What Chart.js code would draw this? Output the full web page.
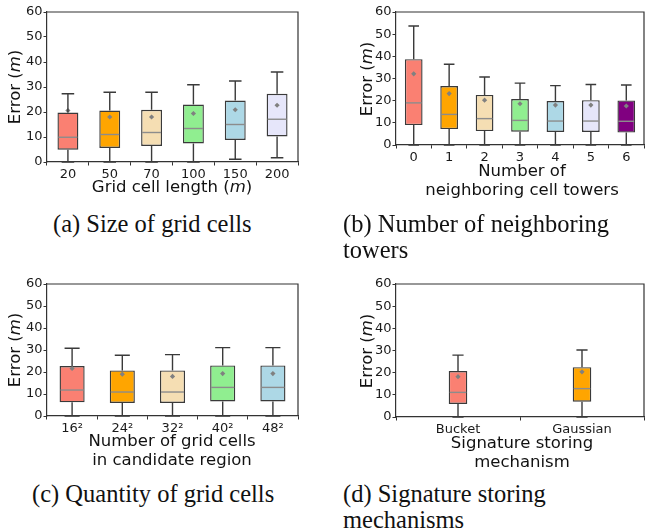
<!DOCTYPE html>
<html>
<head>
<meta charset="utf-8">
<script src="https://cdn.jsdelivr.net/npm/chart.js@4"></script>
<style>
  html, body { margin: 0; padding: 0; background: #fff; overflow: hidden; }
  #fig { position: relative; width: 647px; height: 532px; }
  canvas { position: absolute; }
  .lbl { position: absolute; font-family: "DejaVu Sans", sans-serif; font-size: 16.5px; color: #111;
         white-space: nowrap; transform: translate(-50%, -50%); text-align: center; line-height: 18.5px; }
  .ylbl { transform: translate(-50%, -50%) rotate(-90deg); }
  .cap { position: absolute; font-family: "Liberation Serif", "Times New Roman", serif; font-size: 24.5px;
         color: #111; white-space: nowrap; line-height: 26px; }
</style>
</head>
<body>
<div id="fig">
  <canvas id="chartA" width="320" height="200" style="left:0px;top:0px;width:320px;height:200px"></canvas>
  <canvas id="chartB" width="328" height="200" style="left:320px;top:0px;width:328px;height:200px"></canvas>
  <canvas id="chartC" width="320" height="200" style="left:0px;top:270px;width:320px;height:200px"></canvas>
  <canvas id="chartD" width="328" height="200" style="left:320px;top:270px;width:328px;height:200px"></canvas>

  <div class="lbl ylbl" style="left:15px;top:87px">Error (<i>m</i>)</div>
  <div class="lbl ylbl" style="left:367px;top:79px">Error (<i>m</i>)</div>
  <div class="lbl ylbl" style="left:15px;top:350px">Error (<i>m</i>)</div>
  <div class="lbl ylbl" style="left:367px;top:351px">Error (<i>m</i>)</div>

  <div class="lbl" style="left:172px;top:187px">Grid cell length (<i>m</i>)</div>
  <div class="lbl" style="left:522px;top:180px">Number of<br>neighboring cell towers</div>
  <div class="lbl" style="left:172px;top:450px">Number of grid cells<br>in candidate region</div>
  <div class="lbl" style="left:522px;top:452px">Signature storing<br>mechanism</div>

  <div class="cap" style="left:53px;top:211px">(a) Size of grid cells</div>
  <div class="cap" style="left:343px;top:211px">(b) Number of neighboring<br>towers</div>
  <div class="cap" style="left:32px;top:481px">(c) Quantity of grid cells</div>
  <div class="cap" style="left:343px;top:481px">(d) Signature storing<br>mechanisms</div>
</div>
<script>
// (a) size of grid cells
const aLabels = ['20', '50', '70', '100', '150', '200'];
const aQ1 = [4.9, 5.6, 6.4, 7.4, 8.8, 10.2];
const aMed = [9.9, 11.0, 11.8, 13.4, 15.0, 17.1];
const aQ3 = [19.8, 20.6, 20.9, 23.0, 24.6, 27.3];
const aLo = [0, 0, 0, 0, 1.1, 1.7];
const aHi = [27.3, 27.9, 27.9, 30.9, 32.4, 36.0];
const aMean = [20.6, 18.0, 18.0, 19.4, 20.9, 22.7];

// (b) number of neighboring towers
const bLabels = ['0', '1', '2', '3', '4', '5', '6'];
const bQ1 = [9.0, 7.2, 6.3, 6.0, 5.9, 5.9, 5.6];
const bMed = [19.0, 13.8, 11.9, 11.1, 10.8, 10.8, 10.7];
const bQ3 = [38.7, 26.6, 22.6, 20.7, 19.8, 20.2, 20.1];
const bLo = [0, 0, 0, 0, 0, 0, 0];
const bHi = [53.7, 36.4, 30.7, 27.9, 26.8, 27.3, 27.1];
const bMean = [32.1, 23.2, 20.2, 18.6, 18.0, 18.0, 17.6];

// (c) quantity of grid cells
const cLabels = ['16²', '24²', '32²', '40²', '48²'];
const cQ1 = [6.2, 5.9, 5.9, 6.6, 6.6];
const cMed = [11.8, 10.9, 10.9, 13.0, 13.0];
const cQ3 = [22.7, 20.7, 20.7, 23.0, 23.0];
const cLo = [0, 0, 0, 0, 0];
const cHi = [30.8, 27.6, 27.9, 31.1, 31.1];
const cMean = [21.6, 19.0, 18.0, 19.3, 19.3];

// (d) signature storing mechanisms
const dLabels = ['Bucket', 'Gaussian'];
const dQ1 = [5.9, 6.9];
const dMed = [11.1, 12.8];
const dQ3 = [20.7, 22.5];
const dLo = [0, 0];
const dHi = [27.9, 30.2];
const dMean = [18.2, 20.4];

const yTicks = [0, 10, 20, 30, 40, 50, 60];
const boxColors = ['#fa8072', '#ffa500', '#f5deb3', '#90ee90', '#add8e6', '#e6e6fa', '#800080'];

const lineCol = '#3a3a3a';
const medCol = '#8c8c8c';

Chart.defaults.font.family = 'DejaVu Sans';
Chart.defaults.color = '#1a1a1a';

// whiskers, caps, medians and the axes frame
const boxExtras = {
  id: 'boxExtras',
  afterDatasetsDraw(chart) {
    const { ctx, chartArea } = chart;
    const y = chart.scales.y;
    const ds = chart.data.datasets[0];
    const meta = chart.getDatasetMeta(0);
    ctx.save();
    ctx.lineWidth = 1.4;
    meta.data.forEach((bar, i) => {
      const cx = bar.x;
      const w = bar.width;
      const cap = w * 0.6;
      const yq1 = y.getPixelForValue(ds.q1[i]);
      const yq3 = y.getPixelForValue(ds.q3[i]);
      const ylo = y.getPixelForValue(ds.lo[i]);
      const yhi = y.getPixelForValue(ds.hi[i]);
      const ymed = y.getPixelForValue(ds.med[i]);
      ctx.strokeStyle = lineCol;
      ctx.beginPath();
      ctx.moveTo(cx, yq3); ctx.lineTo(cx, yhi);
      ctx.moveTo(cx, yq1); ctx.lineTo(cx, ylo);
      ctx.moveTo(cx - cap / 2, yhi); ctx.lineTo(cx + cap / 2, yhi);
      ctx.moveTo(cx - cap / 2, ylo); ctx.lineTo(cx + cap / 2, ylo);
      ctx.stroke();
      ctx.strokeStyle = medCol;
      ctx.beginPath();
      ctx.moveTo(cx - w / 2 + 1, ymed); ctx.lineTo(cx + w / 2 - 1, ymed);
      ctx.stroke();
    });
    ctx.strokeStyle = '#333';
    ctx.lineWidth = 1.2;
    ctx.beginPath();
    ctx.moveTo(chartArea.left, chartArea.top);
    ctx.lineTo(chartArea.right, chartArea.top);
    ctx.lineTo(chartArea.right, chartArea.bottom);
    ctx.stroke();
    ctx.restore();
  }
};

const makeBox = (id, labels, q1, med, q3, lo, hi, mean, opts) => {
  const ctx = document.getElementById(id).getContext('2d');
  const boxes = q1.map((v, i) => [v, q3[i]]);
  return new Chart(ctx, {
    type: 'bar',
    data: {
      labels: labels,
      datasets: [
        {
          data: boxes,
          q1: q1, q3: q3, med: med, lo: lo, hi: hi,
          backgroundColor: boxColors.slice(0, labels.length),
          borderColor: lineCol,
          borderWidth: 1.4,
          borderSkipped: false,
          barPercentage: opts.boxWidth,
          categoryPercentage: 1,
          order: 2,
        },
        {
          type: 'line',
          data: mean,
          showLine: false,
          pointStyle: 'rectRot',
          pointRadius: 2.6,
          pointBackgroundColor: '#808080',
          pointBorderColor: '#808080',
          pointBorderWidth: 0,
          order: 1,
        },
      ],
    },
    options: {
      responsive: false,
      devicePixelRatio: 1,
      animation: false,
      layout: { padding: { left: 0, top: opts.top, right: opts.right, bottom: 0 } },
      plugins: { legend: { display: false }, tooltip: { enabled: false } },
      scales: {
        x: {
          offset: true,
          grid: { display: true, drawOnChartArea: false, tickLength: 3.5, color: '#333' },
          border: { display: true, color: '#333', width: 1.2 },
          ticks: { font: { size: 13 }, padding: 1, maxRotation: 0, autoSkip: false },
          afterFit: (axis) => { axis.height = opts.xh; },
        },
        y: {
          min: 0,
          max: 60,
          afterBuildTicks: (axis) => { axis.ticks = yTicks.map((v) => ({ value: v })); },
          grid: { display: true, drawOnChartArea: false, tickLength: 3.5, color: '#333' },
          border: { display: true, color: '#333', width: 1.2 },
          ticks: { font: { size: 13 }, padding: 1 },
          afterFit: (axis) => { axis.width = opts.yw; },
        },
      },
    },
    plugins: [boxExtras],
  });
};

makeBox('chartA', aLabels, aQ1, aMed, aQ3, aLo, aHi, aMean, { boxWidth: 0.5, top: 12, right: 22, xh: 38, yw: 47 });
makeBox('chartB', bLabels, bQ1, bMed, bQ3, bLo, bHi, bMean, { boxWidth: 0.5, top: 12, right: 0, xh: 55, yw: 76 });
makeBox('chartC', cLabels, cQ1, cMed, cQ3, cLo, cHi, cMean, { boxWidth: 0.5, top: 14, right: 22, xh: 54, yw: 47 });
makeBox('chartD', dLabels, dQ1, dMed, dQ3, dLo, dHi, dMean, { boxWidth: 0.15, top: 14, right: 0, xh: 53, yw: 76 });
</script>
</body>
</html>
